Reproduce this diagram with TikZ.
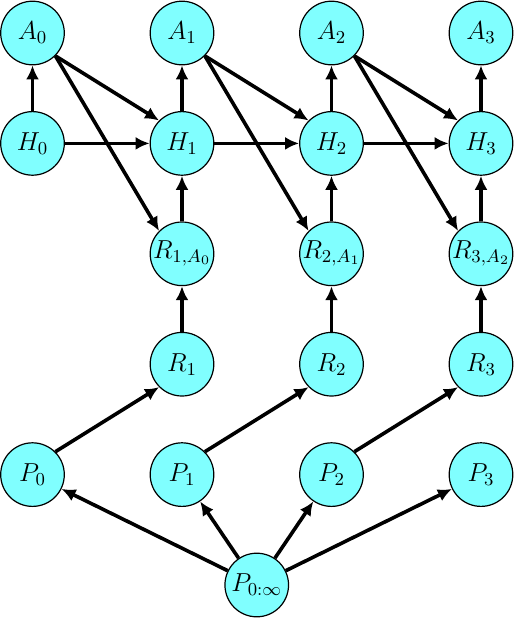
\RequirePackage{fix-cm}
\documentclass[tikz,border=0pt,11pt]{standalone}
\usetikzlibrary{arrows.meta}
\definecolor{nodecyan}{RGB}{128,255,255}
\newcommand{\nodefont}{\fontsize{13}{15}\selectfont}
\begin{document}
\begin{tikzpicture}[x=0.5pt,y=-0.5pt,
  var/.style={circle,draw=black,line width=0.6pt,fill=nodecyan,minimum size=31.8pt,inner sep=0pt,font=\nodefont},
  edge/.style={line width=1.8pt,-{Latex[length=7pt,width=6.5pt]}}]
\useasboundingbox (0,0) rectangle (516,618);
\def\cx#1{32.5+149.5*#1}
\def\ry#1{33+110.4*#1}
\foreach \i in {0,1,2,3}{
  \node[var] (A\i) at ({\cx{\i}},{\ry{0}}) {$A_{\i}$};
  \node[var] (H\i) at ({\cx{\i}},{\ry{1}}) {$H_{\i}$};
  \node[var] (P\i) at ({\cx{\i}},{\ry{4}}) {$P_{\i}$};
}
\node[var] (RA1) at ({\cx{1}},{\ry{2}}) {$R_{1,A_0}$};
\node[var] (RA2) at ({\cx{2}},{\ry{2}}) {$R_{2,A_1}$};
\node[var] (RA3) at ({\cx{3}},{\ry{2}}) {$R_{3,A_2}$};
\node[var] (R1) at ({\cx{1}},{\ry{3}}) {$R_1$};
\node[var] (R2) at ({\cx{2}},{\ry{3}}) {$R_2$};
\node[var] (R3) at ({\cx{3}},{\ry{3}}) {$R_3$};
\node[var] (Pinf) at ({\cx{1.5}},{\ry{5}}) {$P_{0:\infty}$};
\foreach \i in {0,1,2,3}{
  \draw[edge] (H\i) -- (A\i);
  \draw[edge] (Pinf) -- (P\i);
}
\foreach \i/\j in {0/1,1/2,2/3}{
  \draw[edge] (H\i) -- (H\j);
  \draw[edge] (A\i.south east) -- (H\j.north west);
  \draw[edge] (A\i.south east) -- (RA\j.north west);
  \draw[edge] (P\i.north east) -- (R\j.south west);
  \draw[edge] (RA\j) -- (H\j);
  \draw[edge] (R\j) -- (RA\j);
}
\end{tikzpicture}
\end{document}
